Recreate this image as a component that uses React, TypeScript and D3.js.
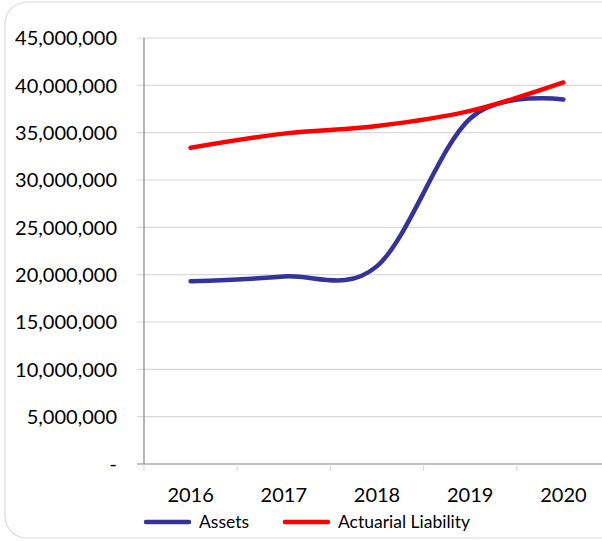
// Assets vs actuarial liability, smoothed lines, d3 scales.

import * as d3 from "d3";

const years = ["2016", "2017", "2018", "2019", "2020"];
const assets = [19300000, 19800000, 20900000, 36500000, 38500000];
const liability = [33400000, 34900000, 35700000, 37300000, 40300000];
const yTicks = [0, 5000000, 10000000, 15000000, 20000000, 25000000, 30000000, 35000000, 40000000, 45000000];
const seriesNames = ["Assets", "Actuarial Liability"];
const seriesColors = ["#333399", "#ff0000"];

const font = "Lato, 'Open Sans', sans-serif";

export default function App() {
  const width = 602;
  const height = 541;
  const [marginTop, marginRight, marginBottom, marginLeft] = [38, -8, 77, 144];

  const plotRight = width - marginRight;
  const plotBottom = height - marginBottom;

  const scaleX = d3.scalePoint(years, [marginLeft, plotRight]).padding(0.5);
  const scaleY = d3.scaleLinear([0, 45000000], [plotBottom, marginTop]);
  const step = scaleX.step();

  const line = d3
    .line<number>((d, i) => scaleX(years[i]) as number, (d) => scaleY(d))
    .curve(d3.curveCardinal.tension(0));

  const fmt = d3.format(",");
  const tickEdges = d3.range(years.length + 1).map((i) => marginLeft + i * step);

  return (
    <svg
      width={width}
      height={height}
      style={{ position: "absolute", left: 0, top: 0, background: "#fff" }}
    >
      <rect
        x={5}
        y={2}
        width={640}
        height={536}
        rx={22}
        fill="#fff"
        stroke="#d9d9d9"
        strokeWidth={1.2}
      />
      {/* gridlines */}
      <g stroke="#d9d9d9" strokeWidth={1.2}>
        {yTicks.slice(1).map((t) => (
          <line key={t} x1={marginLeft - 7} x2={plotRight} y1={scaleY(t)} y2={scaleY(t)} />
        ))}
      </g>
      {/* axes */}
      <g stroke="#868686" strokeWidth={1.2}>
        <line x1={marginLeft} x2={marginLeft} y1={marginTop} y2={plotBottom} />
        <line x1={marginLeft - 7} x2={plotRight} y1={plotBottom} y2={plotBottom} />
        {tickEdges.map((x) => (
          <line key={x} x1={x} x2={x} y1={plotBottom} y2={plotBottom + 7} stroke="#d9d9d9" />
        ))}
      </g>
      <g fontFamily={font} fontSize={20} fill="#000" textAnchor="end">
        {yTicks.map((t) => (
          <text key={t} x={117} y={scaleY(t)} dy="0.36em">
            {t === 0 ? "-" : fmt(t)}
          </text>
        ))}
      </g>
      <g fontFamily={font} fontSize={20} fill="#000" textAnchor="middle">
        {years.map((y) => (
          <text key={y} x={scaleX(y)} y={502}>
            {y}
          </text>
        ))}
      </g>
      {[assets, liability].map((s, k) => (
        <path
          key={k}
          d={line(s) || ""}
          fill="none"
          stroke={seriesColors[k]}
          strokeWidth={4.5}
          strokeLinecap="round"
        />
      ))}
      {/* legend */}
      <g fontFamily={font} fontSize={17.5}>
        {seriesNames.map((n, k) => {
          const x0 = k === 0 ? 146 : 285;
          return (
            <g key={n}>
              <line
                x1={x0}
                x2={x0 + 43}
                y1={522}
                y2={522}
                stroke={seriesColors[k]}
                strokeWidth={4.5}
                strokeLinecap="round"
              />
              <text x={x0 + 53} y={528}>
                {n}
              </text>
            </g>
          );
        })}
      </g>
    </svg>
  );
}
